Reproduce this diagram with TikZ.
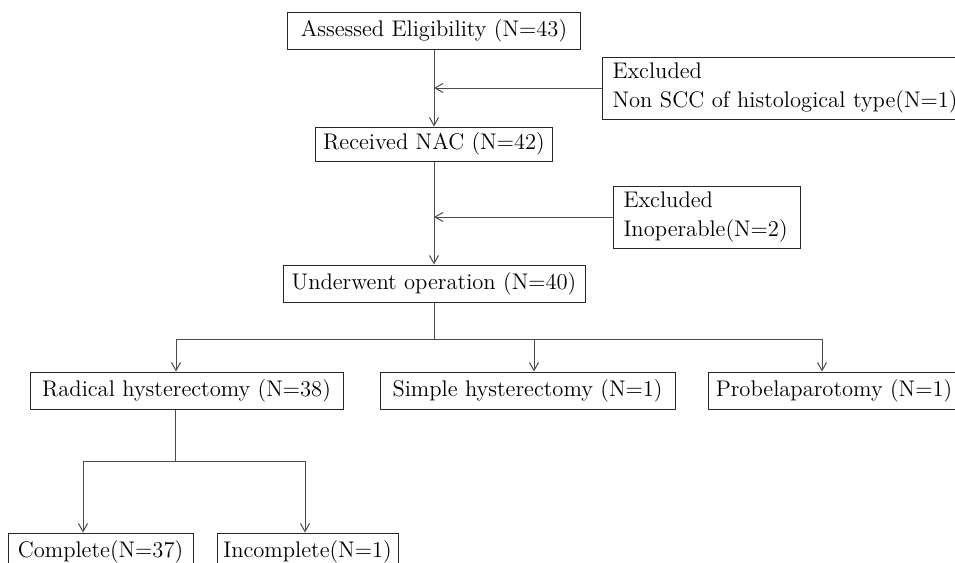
\documentclass[tikz,border=0pt]{standalone}
\usepackage{tikz}
\usetikzlibrary{arrows.meta,positioning}

\tikzset{
    box/.style={draw=black!85, line width=0.5pt, inner sep=0pt, minimum height=18.5pt,
        font=\fontsize{11.3}{13}\selectfont},
    exbox/.style={box, anchor=west, align=left, inner xsep=5pt, minimum height=31pt,
        font=\fontsize{11.3}{14.5}\selectfont},
    link/.style={draw=black!70, line width=0.5pt},
}

\begin{document}
\begin{tikzpicture}[x=0.5pt, y=-0.5pt, >={Straight Barb[length=4pt,width=4.5pt]}]
            \useasboundingbox (0,0) rectangle (955,563);
            \clip (0,0) rectangle (955,563);

            % Draw the main chain of boxes
            \node[box, minimum width=146.5pt] (elig) at (434,31) {Assessed Eligibility (N=43)};
            \node[box, minimum width=118.5pt, minimum height=17pt] (nac) at (434,144) {Received NAC (N=42)};
            \node[box, minimum width=151pt] (oper) at (434,283.5) {Underwent operation (N=40)};

            % Draw the excluded boxes
            \node[exbox, text width=180pt] (excl1) at (602,88) {Excluded\\Non SCC of histological type(N=1)};
            \node[exbox, text width=83.5pt] (excl2) at (613,217) {Excluded\\Inoperable(N=2)};

            % draw the operation types
            \node[box, minimum width=156.5pt] (rad) at (186.5,390.5) {Radical hysterectomy (N=38)};
            \node[box, minimum width=147.5pt] (simple) at (527.5,390.5) {Simple hysterectomy (N=1)};
            \node[box, minimum width=126pt] (probe) at (834,390.5) {Probelaparotomy (N=1)};

            % draw the resection results
            \node[box, minimum width=92.5pt] (compl) at (100.5,551.5) {Complete(N=37)};
            \node[box, minimum width=90.5pt] (incompl) at (307.5,551.5) {Incomplete(N=1)};

            % Draw the flow down the main chain
            \draw[link, ->] (elig) -- (nac);
            \draw[link, ->] (nac) -- (oper);
            \draw[link, ->] (excl1) -- (elig |- excl1.west);
            \draw[link, ->] (excl2) -- (nac |- excl2.west);

            % Draw the split into operation types
            \coordinate (fork) at (434,339);
            \draw[link] (oper) -- (fork);
            \foreach \n/\dx in {rad/-5.25pt, simple/3.25pt, probe/-6pt}{
                \draw[link, ->] (fork) -| ([xshift=\dx]\n.north);
            }

            % Draw the split into results
            \coordinate (fork2) at (175,461);
            \draw[link] ([xshift=-5.75pt]rad.south) -- (fork2);
            \foreach \n/\dx in {compl/-8.75pt, incompl/-1.25pt}{
                \draw[link, ->] (fork2) -| ([xshift=\dx]\n.north);
            }
        \end{tikzpicture}
\end{document}
